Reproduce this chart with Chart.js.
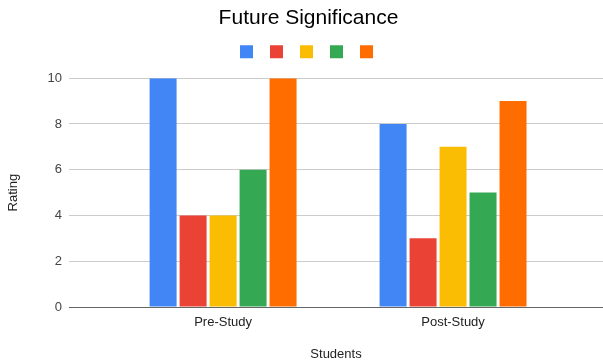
<!DOCTYPE html>
<html>
<head>
<meta charset="utf-8">
<script src="https://cdn.jsdelivr.net/npm/chart.js@4/dist/chart.umd.min.js"></script>
<style>
  html, body { margin: 0; padding: 0; background: #fff; }
  #chart { display: block; }
</style>
</head>
<body>
<canvas id="chart" width="603" height="364"></canvas>
<script>
// Ratings per group
const categories = ['Pre-Study', 'Post-Study'];
const blueSeries = [10, 8];
const redSeries = [4, 3];
const yellowSeries = [4, 7];
const greenSeries = [6, 5];
const orangeSeries = [10, 9];
const yTicks = [0, 2, 4, 6, 8, 10];

const seriesList = [
    { values: blueSeries, color: '#4285F4' },
    { values: redSeries, color: '#EA4335' },
    { values: yellowSeries, color: '#FBBC04' },
    { values: greenSeries, color: '#34A853' },
    { values: orangeSeries, color: '#FF6D01' }
];

Chart.defaults.font.family = 'Arial, "Liberation Sans", sans-serif';
Chart.defaults.color = '#222';

// Extra room under the legend, and nudge title and legend a little to the right
const headerSpacing = {
    id: 'headerSpacing',
    beforeInit(chart) {
        const fit = chart.legend.fit;
        chart.legend.fit = function() {
            fit.bind(chart.legend)();
            this.height += 10;
        };
    },
    afterLayout(chart) {
        chart.legend.left += 7;
        chart.legend.right += 7;
        chart.titleBlock.left += 6;
        chart.titleBlock.right += 6;
    }
};

const datasets = seriesList.map(s => ({
    label: '',
    data: s.values.map((v, i) => ({ x: i, y: v })),
    backgroundColor: s.color,
    borderWidth: 0,
    barPercentage: 0.9,
    categoryPercentage: 0.652
}));

new Chart(document.getElementById('chart'), {
    type: 'bar',
    data: { datasets: datasets },
    plugins: [headerSpacing],
    options: {
        responsive: false,
        animation: false,
        layout: { padding: { left: 2, right: 0, top: 0, bottom: 2 } },
        plugins: {
            title: {
                display: true,
                text: 'Future Significance',
                color: '#000',
                font: { size: 21, weight: 'normal' },
                padding: { top: 6, bottom: 3 }
            },
            legend: {
                display: true,
                position: 'top',
                labels: {
                    boxWidth: 13,
                    boxHeight: 13,
                    padding: 11,
                    font: { size: 12 }
                }
            },
            tooltip: { enabled: false }
        },
        scales: {
            x: {
                type: 'linear',
                offset: false,
                min: -0.67,
                max: 1.652,
                grid: { display: false, offset: false, drawTicks: false },
                border: { display: true, color: '#666', width: 1 },
                afterBuildTicks: scale => {
                    scale.ticks = categories.map((c, i) => ({ value: i }));
                },
                ticks: {
                    color: '#222',
                    font: { size: 13 },
                    padding: 8,
                    maxRotation: 0,
                    callback: v => categories[v]
                },
                title: {
                    display: true,
                    text: 'Students',
                    color: '#222',
                    font: { size: 13 },
                    padding: { top: 4, bottom: 0 }
                },
                afterFit: scale => { scale.height = 55; }
            },
            y: {
                min: 0,
                max: 10,
                afterBuildTicks: scale => {
                    scale.ticks = yTicks.map(v => ({ value: v }));
                },
                grid: {
                    color: ctx => ctx.tick && ctx.tick.value === 0 ? '#666' : '#ccc',
                    drawTicks: false
                },
                border: { display: false },
                ticks: {
                    color: '#444',
                    font: { size: 13 },
                    padding: 7
                },
                title: {
                    display: true,
                    text: 'Rating',
                    color: '#222',
                    font: { size: 13 }
                },
                afterFit: scale => { scale.width = 67; }
            }
        }
    }
});
</script>
</body>
</html>
